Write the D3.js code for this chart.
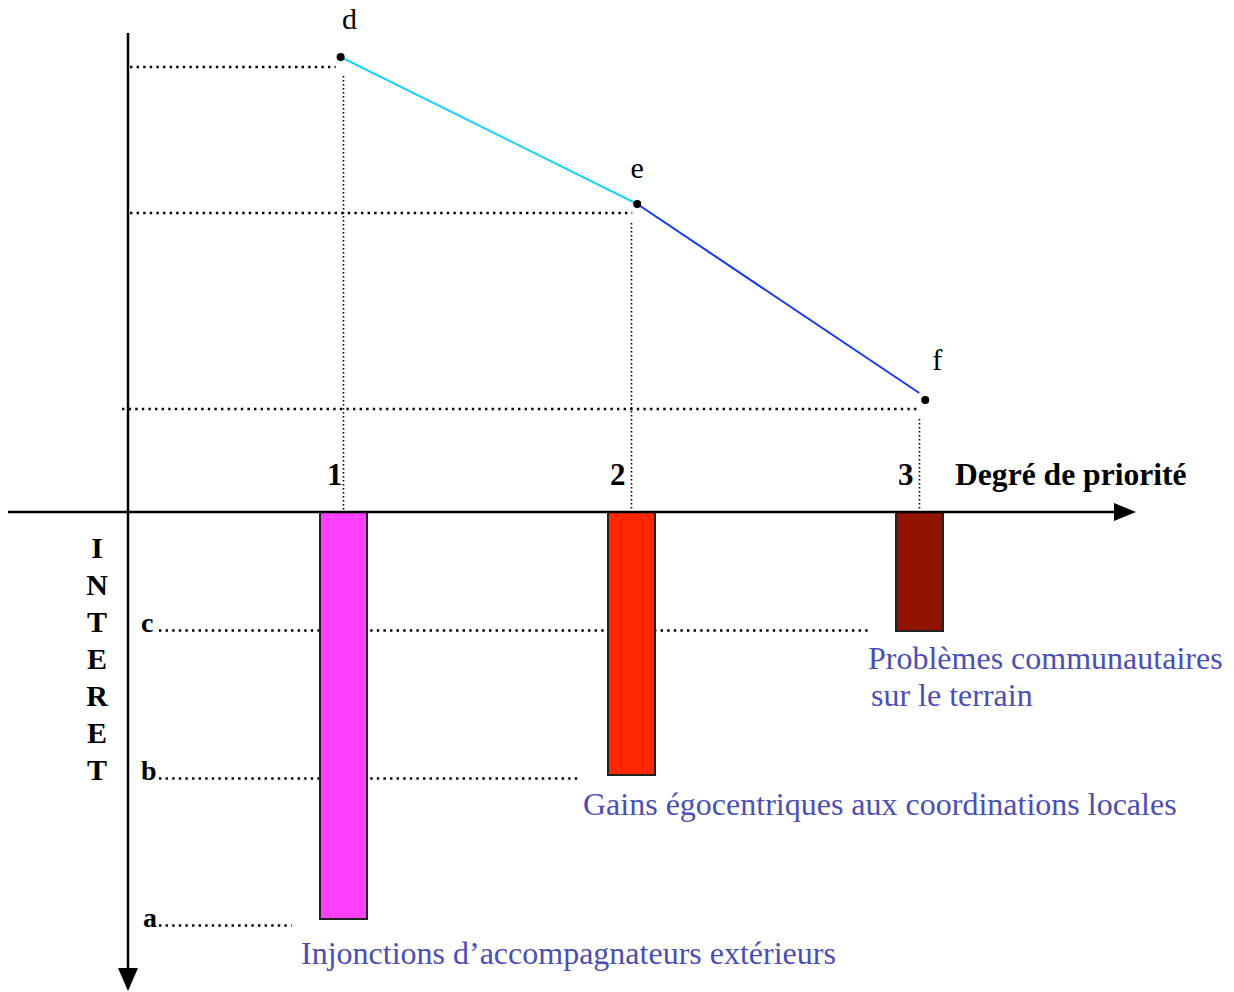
<!DOCTYPE html>
<html>
<head>
<meta charset="utf-8">
<script src="https://cdn.jsdelivr.net/npm/d3@7"></script>
<style>
  body { margin: 0; background: #fff; }
  svg text { font-family: "Liberation Serif", "Times New Roman", serif; }
</style>
</head>
<body>
<div id="chart"></div>
<script>
// Size of the page drawing
const w = 1234;
const h = 992;

// Priority categories (x axis)
const priorities = [1, 2, 3];

// Points d, e, f above the axis
const pointNames = ["d", "e", "f"];
const pointPriority = [0.99, 2.02, 3.02];
const pointValue = [9.1, 6.16, 2.24];
const pointGuide = [8.9, 5.98, 2.06];   // dotted level for each point

// Bars below the axis (interest)
const barNames = ["Injonctions d\u2019accompagnateurs extérieurs",
                  "Gains égocentriques aux coordinations locales",
                  "Problèmes communautaires sur le terrain"];
const barValue = [8.14, 5.26, 2.38];
const barColors = ["#ff40ff", "#ff2600", "#921400"];

// Interest levels a, b, c and how far their dotted line reaches (in priority units)
const levelNames = ["a", "b", "c"];
const levelValue = [8.27, 5.33, 2.37];
const levelReach = [0.82, 1.82, 2.83];

const axisY = 512;
const axisX = 128;

const svg = d3.select("#chart")
    .append("svg")
    .attr("width", w)
    .attr("height", h);

// Scales
const xScale = d3.scaleLinear().domain([1, 3]).range([343.5, 919.5]);
const yUp = d3.scaleLinear().domain([0, 10]).range([axisY, 12]);
const yDown = d3.scaleLinear().domain([0, 10]).range([axisY, 1012]);

const dotted = "2.4 4.2";

// Dotted guides for the points (horizontal)
svg.selectAll("line.guide-up")
    .data(pointGuide)
    .enter()
    .append("line")
    .attr("x1", (d, i) => i === 2 ? 122 : 130)
    .attr("x2", (d, i) => xScale(pointPriority[i]) - 5)
    .attr("y1", d => yUp(d))
    .attr("y2", d => yUp(d))
    .attr("stroke", "#000")
    .attr("stroke-width", 2.4)
    .attr("stroke-dasharray", dotted);

// Dotted guides (vertical) from each point down to the axis
svg.selectAll("line.guide-v")
    .data(priorities)
    .enter()
    .append("line")
    .attr("x1", d => xScale(d))
    .attr("x2", d => xScale(d))
    .attr("y1", (d, i) => yUp(pointValue[i]) + 19)
    .attr("y2", axisY)
    .attr("stroke", "#000")
    .attr("stroke-width", 1.6)
    .attr("stroke-dasharray", "1.6 2.4");

// Dotted guides for the interest levels
svg.selectAll("line.guide-down")
    .data(levelValue)
    .enter()
    .append("line")
    .attr("x1", 159)
    .attr("x2", (d, i) => xScale(levelReach[i]))
    .attr("y1", d => yDown(d))
    .attr("y2", d => yDown(d))
    .attr("stroke", "#000")
    .attr("stroke-width", 2.4)
    .attr("stroke-dasharray", dotted);

// Level letters
svg.selectAll("text.level")
    .data(levelNames)
    .enter()
    .append("text")
    .text(d => d)
    .attr("x", (d, i) => i === 0 ? 143 : 141)
    .attr("y", (d, i) => yDown(levelValue[i]) + 1)
    .attr("font-size", "28px")
    .attr("font-weight", "bold");

// Bars
svg.selectAll("rect.bar")
    .data(barValue)
    .enter()
    .append("rect")
    .attr("x", (d, i) => xScale(priorities[i]) - 23.5)
    .attr("y", yDown(0))
    .attr("width", 47)
    .attr("height", d => yDown(d) - yDown(0))
    .attr("fill", (d, i) => barColors[i])
    .attr("stroke", "#222")
    .attr("stroke-width", 2);

// Axes with arrows
svg.append("line")
    .attr("x1", 8).attr("x2", 1118)
    .attr("y1", axisY).attr("y2", axisY)
    .attr("stroke", "#000").attr("stroke-width", 2.5);
svg.append("path")
    .attr("d", `M1114,${axisY - 9} L1136,${axisY} L1114,${axisY + 9} Z`)
    .attr("fill", "#000");

svg.append("line")
    .attr("x1", axisX).attr("x2", axisX)
    .attr("y1", 33).attr("y2", 972)
    .attr("stroke", "#000").attr("stroke-width", 2.5);
svg.append("path")
    .attr("d", `M${axisX - 10},968 L${axisX},991 L${axisX + 10},968 Z`)
    .attr("fill", "#000");

// Tick labels
svg.selectAll("text.tick")
    .data(priorities)
    .enter()
    .append("text")
    .text(d => d)
    .attr("x", (d, i) => xScale(d) - (i === 0 ? 1 : 6))
    .attr("y", 485)
    .attr("text-anchor", "end")
    .attr("font-size", "31px")
    .attr("font-weight", "bold");

svg.append("text")
    .text("Degré de priorité")
    .attr("x", 955)
    .attr("y", 485)
    .attr("font-size", "31.6px")
    .attr("font-weight", "bold");

// Vertical axis title, one letter per row
const title = "INTERET".split("");
svg.selectAll("text.ytitle")
    .data(title)
    .enter()
    .append("text")
    .text(d => d)
    .attr("x", 97)
    .attr("y", (d, i) => 558 + i * 37)
    .attr("text-anchor", "middle")
    .attr("font-size", "30px")
    .attr("font-weight", "bold");

// Line through the points, two colours
const segColors = ["#1ed2f5", "#1438f2"];
const pts = pointValue.map((v, i) => [xScale(pointPriority[i]), yUp(v)]);
svg.selectAll("line.seg")
    .data(segColors)
    .enter()
    .append("line")
    .attr("x1", (d, i) => pts[i][0])
    .attr("y1", (d, i) => pts[i][1])
    .attr("x2", (d, i) => i === 1 ? pts[2][0] - 6 : pts[i + 1][0])
    .attr("y2", (d, i) => i === 1 ? pts[2][1] - 7 : pts[i + 1][1])
    .attr("stroke", d => d)
    .attr("stroke-width", 2);

svg.selectAll("circle.pt")
    .data(pts)
    .enter()
    .append("circle")
    .attr("cx", d => d[0])
    .attr("cy", d => d[1])
    .attr("r", 4)
    .attr("fill", "#000");

svg.selectAll("text.ptname")
    .data(pointNames)
    .enter()
    .append("text")
    .text(d => d)
    .attr("x", (d, i) => pts[i][0] + [9, 0, 12][i])
    .attr("y", (d, i) => pts[i][1] - [28, 26, 30][i])
    .attr("text-anchor", "middle")
    .attr("font-size", "30px");

// Bar captions
const capColor = "#4a4fb3";
const captions = [
    { x: 301, y: 964, lines: [barNames[0]] },
    { x: 583, y: 815, lines: [barNames[1]] },
    { x: 868, y: 669, lines: ["Problèmes communautaires", "sur le terrain"] }
];
captions.forEach(c => {
    c.lines.forEach((t, j) => {
        svg.append("text")
            .text(t)
            .attr("x", c.x + j * 3)
            .attr("y", c.y + j * 37)
            .attr("font-size", "32px")
            .attr("fill", capColor);
    });
});
</script>
</body>
</html>
